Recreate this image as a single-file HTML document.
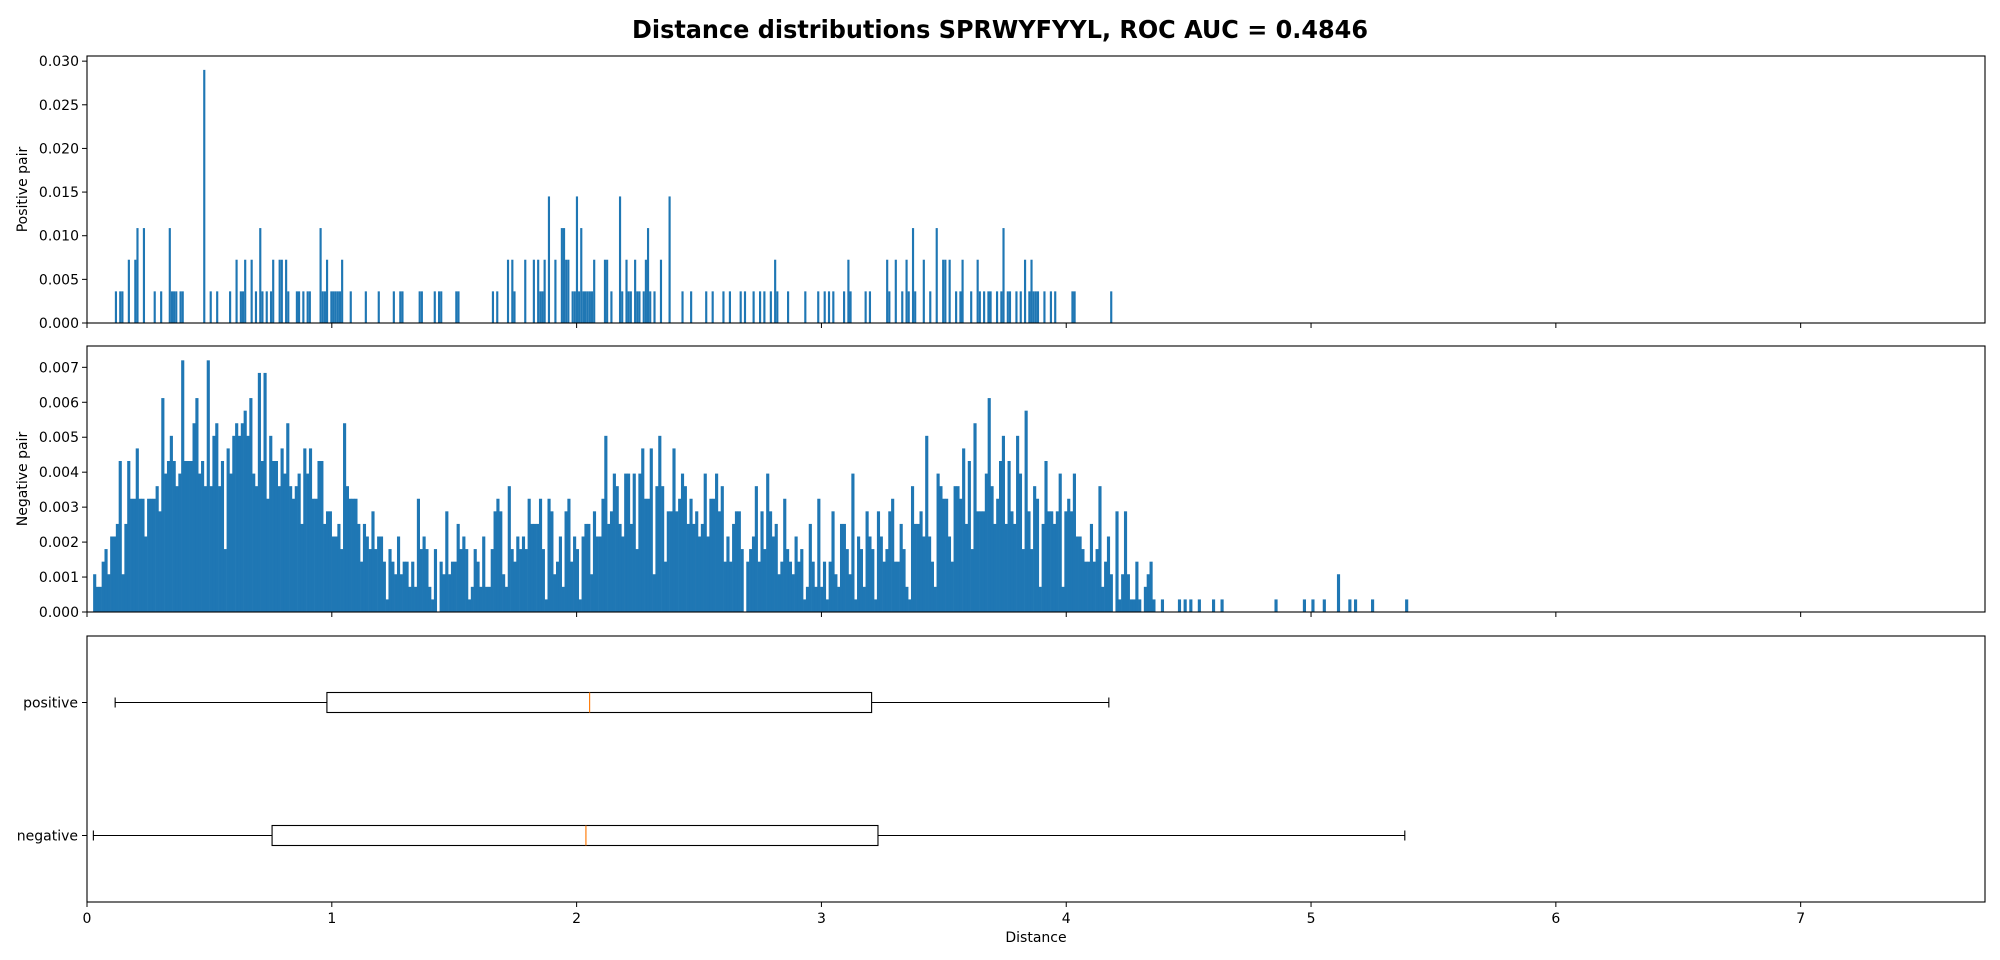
<!DOCTYPE html>
<html><head><meta charset="utf-8"><style>
html,body{margin:0;padding:0;background:#fff;}
svg{display:block;font-family:"DejaVu Sans","Liberation Sans",sans-serif;}
</style></head><body>
<svg id="fig" width="2000" height="960" viewBox="0 0 2000 960" xmlns="http://www.w3.org/2000/svg">
<rect width="2000" height="960" fill="#fff"/>
<text x="1000" y="38" text-anchor="middle" font-size="25" font-weight="bold" textLength="736" lengthAdjust="spacingAndGlyphs">Distance distributions SPRWYFYYL, ROC AUC = 0.4846</text>
<g id="g-pos"></g>
<g id="g-neg"></g>
<g id="g-box"></g>
</svg>
<script>
// ---- data ----
const posBinStart = 0.105;
const posBinWidth = 0.0088;
const posUnit = 0.003625;
const posBins = [1,3,4,7,10,11,14,19,22,26,27,28,29,31,32,42,45,48,54,57,59,60,61,64,66,68,69,71,73,74,77,78,80,81,85,86,88,90,91,96,97,98,99,101,102,103,104,105,106,110,117,123,130,133,134,142,143,149,151,152,159,160,176,178,183,185,186,191,195,197,198,199,200,202,205,208,209,210,211,213,214,215,216,217,218,219,220,221,222,223,228,229,231,235,236,238,239,240,242,243,244,246,
247,248,249,251,254,258,264,268,275,278,283,286,291,293,297,300,302,305,307,308,313,321,327,330,332,334,339,341,342,349,351,359,360,363,366,368,369,371,372,376,379,382,385,386,388,391,393,394,398,401,402,404,406,407,410,412,413,415,416,419,421,423,425,426,427,428,429,432,435,437,445,446,463];
const posCounts = [1,1,1,2,2,3,3,1,1,3,1,1,1,1,1,8,1,1,1,2,1,1,2,2,1,3,1,1,1,2,2,2,2,1,1,1,1,1,1,3,1,1,2,1,1,1,1,1,2,1,1,1,1,1,1,1,1,1,1,1,1,1,1,1,2,2,1,2,2,2,1,1,2,4,2,3,3,2,2,1,1,4,1,3,1,1,1,1,1,2,2,2,1,4,1,2,1,1,2,1,1,1,
2,3,1,1,2,4,1,1,1,1,1,1,1,1,1,1,1,1,2,1,1,1,1,1,1,1,1,2,1,1,1,2,1,2,1,2,1,3,1,2,1,3,2,2,2,1,1,2,1,2,1,1,1,1,1,1,3,1,1,1,1,2,1,2,1,1,1,1,1,1,1,1,1];

const negBinStart = 0.025;
const negBinWidth = 0.0116;
const negUnit = 0.00036;
const negCounts = [
3,2,2,4,5,3,6,6,7,12, 3,7,12,9,9,13,9,9,6,9, 9,9,10,8,17,11,12,14,12,10, 11,20,12,12,12,15,17,11,12,10,
20,10,14,15,10,12,5,13,11,14, 15,14,15,16,14,17,11,10,19,12, 19,9,14,12,12,10,13,11,15,10, 9,10,11,7,13,11,13,9,9,12,
12,7,8,8,6,6,7,5,15,10, 9,9,9,7,4,7,6,5,8,5, 6,6,4,1,5,4,3,6,3,4, 4,2,4,2,9,5,6,5,2,1, 5,0,4,3,8,3,4,4,7,5, 6,5,1,2,5,4,2,6,
2,2,5,8,9,8,3,2,10,5, 4,6,5,6,5,9,7,7,7,9, 5,1,9,8,3,4,6,2,8,9, 4,6,5,1,6,7,7,3,8,6, 6,9,14,7,8,11,10,7,6,11,
11,7,11,5,11,13,9,9,13,3, 10,14,10,4,8,8,13,8,9,11, 10,7,9,7,8,6,7,11,6,9, 9,11,8,10,4,6,4,7,8,8, 5,0,4,5,6,10,4,8,5,11,
8,6,7,3,4,9,5,4,3,6, 4,5,1,2,7,4,2,9,2,4, 1,4,8,3,2,7,7,5,3,11, 1,6,5,2,8,6,5,1,8,6, 4,
5,8,9,4,4,7,5,2,1,10, 7,7,8,6,14,6,4,2,11,10, 9,9,6,4,10,10,9,13,7,12, 5,15,8,8,8,11,17,10,7,9, 12,14,7,12,8,7,14,11,5,16,
8,5,10,9,2,7,12,8,8,7, 8,11,2,8,9,8,11,6,6,5, 4,4,7,4,5,10,2,4,6,3, 0,8,1,3,8,3,1,1,4,1, 0,2,3,4,1,0,0,1,0,0,
0,0,0,1,0,1,0,1,0,0, 1,0,0,0,0,1,0,0,1,0, 0,0,0,0,0,0,0,0,0,0,0,0,0,0,0,0,0,1,0,0,0,
0,0,0,0,0,0,1,0,0,1, 0,0,0,1,0,0,0,0,3,0, 0,0,1,0,1,0,0,0,0,0, 1,0,0,0,0,0,0,0,0,0, 0,0,1];

const boxLabels = ["positive","negative"];
const boxWhiskerLow = [0.115, 0.026];
const boxQ1 = [0.98, 0.756];
const boxMedian = [2.053, 2.038];
const boxQ3 = [3.205, 3.231];
const boxWhiskerHigh = [4.174, 5.383];

const xTicks = [0,1,2,3,4,5,6,7];
const posYTicks = [0,0.005,0.010,0.015,0.020,0.025,0.030];
const negYTicks = [0,0.001,0.002,0.003,0.004,0.005,0.006,0.007];

// ---- layout ----
const NS = "http://www.w3.org/2000/svg";
const L = 87, R = 1985, XMAX = 7.753;
const X = d => L + d / XMAX * (R - L);
function mk(tag, attrs, parent){ const e=document.createElementNS(NS,tag); for(const k in attrs) e.setAttribute(k,attrs[k]); parent.appendChild(e); return e; }

function frame(g, top, bot, name){
  const r = mk('rect',{x:L,y:top,width:R-L,height:bot-top,fill:'none',stroke:'#000','stroke-width':1.1},g);
  
  
}
function xAxis(g, bot, labels, name){
  xTicks.forEach(t=>{
    const ln = mk('line',{x1:X(t),x2:X(t),y1:bot,y2:bot+5,stroke:'#000','stroke-width':1},g);
    
    
    if(labels){
      const tx = mk('text',{x:X(t),y:bot+21,'font-size':14,'text-anchor':'middle'},g);
      tx.textContent = String(t);
      
      
    }
  });
}
function yAxis(g, top, bot, ymax, ticks, dec, name){
  const Y = v => bot - v / ymax * (bot - top);
  ticks.forEach(t=>{
    const ln = mk('line',{x1:L-5,x2:L,y1:Y(t),y2:Y(t),stroke:'#000','stroke-width':1},g);
    
    
    const tx = mk('text',{x:L-8,y:Y(t)+5,'font-size':14,'text-anchor':'end'},g);
    tx.textContent = t.toFixed(dec);
    
    
  });
  return Y;
}
function yTitle(g, top, bot, text, name){
  const cy = (top+bot)/2;
  const tx = mk('text',{x:0,y:0,'font-size':14,'text-anchor':'middle',transform:`translate(27,${cy}) rotate(-90)`},g);
  tx.textContent = text;
  
  
}

// positive histogram
{
  const g = document.getElementById('g-pos'), top=56, bot=323, ymax=0.03059;
  const Y = yAxis(g, top, bot, ymax, posYTicks, 3, 'positive');
  const bw = X(posBinWidth) - X(0);
  posBins.forEach((b,i)=>{
    const v = posCounts[i]*posUnit, x0 = posBinStart + b*posBinWidth;
    const r = mk('rect',{x:X(x0),y:Y(v),width:bw,height:bot-Y(v),fill:'#1f77b4'},g);
    
    
  });
  frame(g, top, bot, 'positive-histogram');
  xAxis(g, bot, false, 'positive');
  yTitle(g, top, bot, 'Positive pair', 'positive-y-axis-title');
}
// negative histogram
{
  const g = document.getElementById('g-neg'), top=346, bot=612, ymax=0.00761;
  const Y = yAxis(g, top, bot, ymax, negYTicks, 3, 'negative');
  const bw = X(negBinWidth) - X(0);
  negCounts.forEach((c,i)=>{
    if(!c) return;
    const v = c*negUnit, x0 = negBinStart + i*negBinWidth;
    const r = mk('rect',{x:X(x0),y:Y(v),width:bw+0.3,height:bot-Y(v),fill:'#1f77b4'},g);
    
    
  });
  frame(g, top, bot, 'negative-histogram');
  xAxis(g, bot, false, 'negative');
  yTitle(g, top, bot, 'Negative pair', 'negative-y-axis-title');
}
// box plot
{
  const g = document.getElementById('g-box'), top=636, bot=902;
  const Yp = i => top + (i+0.5)/2 * (bot-top);
  const hh = 10;
  boxLabels.forEach((lab,i)=>{
    const y = Yp(i);
    const wl = mk('line',{x1:X(boxWhiskerLow[i]),x2:X(boxQ1[i]),y1:y,y2:y,stroke:'#000','stroke-width':1.1},g);
    
    
    const wh = mk('line',{x1:X(boxQ3[i]),x2:X(boxWhiskerHigh[i]),y1:y,y2:y,stroke:'#000','stroke-width':1.1},g);
    
    
    const c1 = mk('line',{x1:X(boxWhiskerLow[i]),x2:X(boxWhiskerLow[i]),y1:y-5,y2:y+5,stroke:'#000','stroke-width':1.1},g);
    
    
    const c2 = mk('line',{x1:X(boxWhiskerHigh[i]),x2:X(boxWhiskerHigh[i]),y1:y-5,y2:y+5,stroke:'#000','stroke-width':1.1},g);
    
    
    const b = mk('rect',{x:X(boxQ1[i]),y:y-hh,width:X(boxQ3[i])-X(boxQ1[i]),height:2*hh,fill:'none',stroke:'#000','stroke-width':1.1},g);
    
    
    const m = mk('line',{x1:X(boxMedian[i]),x2:X(boxMedian[i]),y1:y-hh,y2:y+hh,stroke:'#ff7f0e','stroke-width':1.2},g);
    
    
    const tk = mk('line',{x1:L-5,x2:L,y1:y,y2:y,stroke:'#000','stroke-width':1},g);
    
    
    const tx = mk('text',{x:L-9,y:y+5,'font-size':14,'text-anchor':'end'},g);
    tx.textContent = lab;
    
    
  });
  frame(g, top, bot, 'boxplot');
  xAxis(g, bot, true, 'boxplot');
  const xt = mk('text',{x:(L+R)/2,y:942,'font-size':14,'text-anchor':'middle'},g);
  xt.textContent = 'Distance';
  
  
}
</script>
</body></html>
